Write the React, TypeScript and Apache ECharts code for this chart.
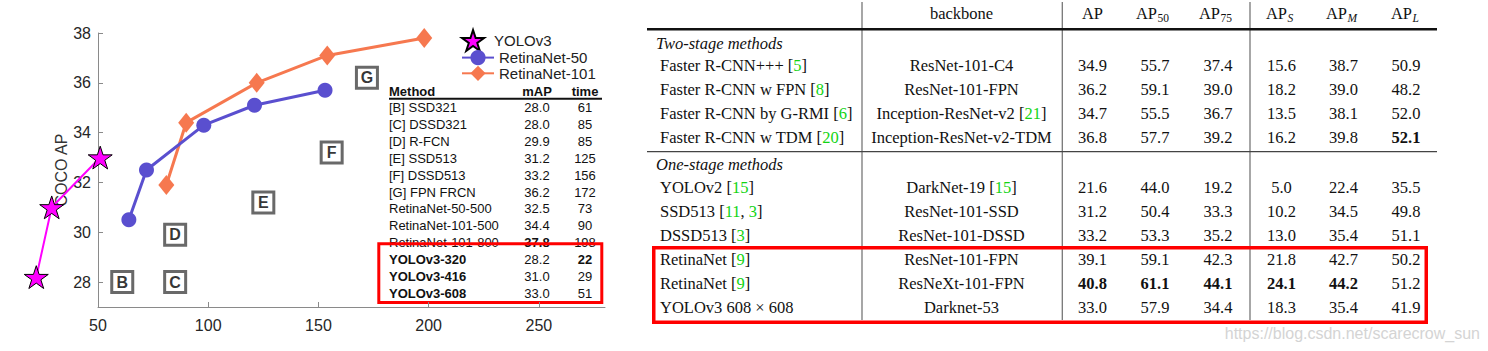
import React, { useEffect, useRef } from 'react';
import * as echarts from 'echarts';

// ---------------- Left chart: speed / accuracy ----------------
const yoloTime = [22, 29, 51];
const yoloAP = [28.2, 31.0, 33.0];
const retina50Time = [64, 72, 98, 121, 153];
const retina50AP = [30.5, 32.5, 34.3, 35.1, 35.7];
const retina101Time = [81, 90, 122, 154, 198];
const retina101AP = [31.9, 34.4, 36.0, 37.1, 37.8];

const xTicks = [50, 100, 150, 200, 250];
const yTicks = [28, 30, 32, 34, 36, 38];

// inner table (Method / mAP / time)
const methodNames = [
  '[B] SSD321', '[C] DSSD321', '[D] R-FCN', '[E] SSD513', '[F] DSSD513', '[G] FPN FRCN',
  'RetinaNet-50-500', 'RetinaNet-101-500', 'RetinaNet-101-800',
  'YOLOv3-320', 'YOLOv3-416', 'YOLOv3-608',
];
const methodMAP = ['28.0', '28.0', '29.9', '31.2', '33.2', '36.2', '32.5', '34.4', '37.8', '28.2', '31.0', '33.0'];
const methodTime = [61, 85, 85, 125, 156, 172, 73, 90, 198, 22, 29, 51];
const methodBold = [false, false, false, false, false, false, false, false, false, true, true, true];
const mapBold = [false, false, false, false, false, false, false, false, true, false, false, false];
const timeBold = [false, false, false, false, false, false, false, false, false, true, false, false];
const boxLetters = ['B', 'C', 'D', 'E', 'F', 'G'];

// ---------------- Right table ----------------
const tblMethods = [
  'Faster R-CNN+++', 'Faster R-CNN w FPN', 'Faster R-CNN by G-RMI', 'Faster R-CNN w TDM',
  'YOLOv2', 'SSD513', 'DSSD513', 'RetinaNet', 'RetinaNet', 'YOLOv3 608 × 608',
];
const tblMethodCites = [['5'], ['8'], ['6'], ['20'], ['15'], ['11', '3'], ['3'], ['9'], ['9'], []];
const tblBackbones = [
  'ResNet-101-C4', 'ResNet-101-FPN', 'Inception-ResNet-v2', 'Inception-ResNet-v2-TDM',
  'DarkNet-19', 'ResNet-101-SSD', 'ResNet-101-DSSD', 'ResNet-101-FPN', 'ResNeXt-101-FPN', 'Darknet-53',
];
const tblBackboneCites = [[], [], ['21'], [], ['15'], [], [], [], [], []];
const tblAP = [34.9, 36.2, 34.7, 36.8, 21.6, 31.2, 33.2, 39.1, 40.8, 33.0];
const tblAP50 = [55.7, 59.1, 55.5, 57.7, 44.0, 50.4, 53.3, 59.1, 61.1, 57.9];
const tblAP75 = [37.4, 39.0, 36.7, 39.2, 19.2, 33.3, 35.2, 42.3, 44.1, 34.4];
const tblAPS = [15.6, 18.2, 13.5, 16.2, 5.0, 10.2, 13.0, 21.8, 24.1, 18.3];
const tblAPM = [38.7, 39.0, 38.1, 39.8, 22.4, 34.5, 35.4, 42.7, 44.2, 35.4];
const tblAPL = [50.9, 48.2, 52.0, 52.1, 35.5, 49.8, 51.1, 50.2, 51.2, 41.9];
const tblBold = [[3, 5], [8, 0], [8, 1], [8, 2], [8, 3], [8, 4]];
const tblHeaderSubs = ['50', '75', 'S', 'M', 'L'];
const tblSections = ['Two-stage methods', 'One-stage methods'];

const STAR = 'path://M50 0 L61.23 34.55 L97.55 34.55 L68.17 55.9 L79.39 90.45 L50 69.1 L20.61 90.45 L31.83 55.9 L2.45 34.55 L38.77 34.55 Z';
const SANS = '"Liberation Sans", Arial, Helvetica, sans-serif';
const SERIF = '"Liberation Serif", "Times New Roman", serif';

function txt(text: string, x: number, y: number, opts: any = {}) {
  return {
    type: 'text',
    silent: true,
    style: {
      text,
      x,
      y,
      fill: opts.fill || '#111',
      fontSize: opts.fontSize || 13,
      fontFamily: opts.fontFamily || SANS,
      fontWeight: opts.fontWeight || 'normal',
      fontStyle: opts.fontStyle || 'normal',
      textAlign: opts.align || 'left',
      textVerticalAlign: 'middle',
      rich: opts.rich,
    },
  };
}

function hline(x1: number, x2: number, y: number, w: number, c: string) {
  return { type: 'line', silent: true, shape: { x1, y1: y, x2, y2: y }, style: { stroke: c, lineWidth: w } };
}
function vline(x: number, y1: number, y2: number, w: number, c: string) {
  return { type: 'line', silent: true, shape: { x1: x, y1, x2: x, y2 }, style: { stroke: c, lineWidth: w } };
}

function citeRich(base: string, cites: string[]) {
  if (!cites.length) return `{t|${base}}`;
  const parts = cites.map((c) => `{g|${c}}`).join('{t|, }');
  return `{t|${base} [}${parts}{t|]}`;
}

function buildGraphics() {
  const g: any[] = [];
  // ---- inner table of left chart ----
  const mX = 389, mapX = 537, tX = 585;
  g.push(txt('Method', mX, 91, { fontWeight: 'bold' }));
  g.push(txt('mAP', mapX, 91, { fontWeight: 'bold', align: 'center' }));
  g.push(txt('time', tX, 91, { fontWeight: 'bold', align: 'center' }));
  g.push(hline(389, 602, 98.7, 2, '#111'));
  methodNames.forEach((n, i) => {
    const y = 107.7 + 16.87 * i;
    g.push(txt(n, mX, y, { fontWeight: methodBold[i] ? 'bold' : 'normal' }));
    g.push(txt(methodMAP[i], mapX, y, { align: 'center', fontWeight: mapBold[i] ? 'bold' : 'normal' }));
    g.push(txt(String(methodTime[i]), tX, y, { align: 'center', fontWeight: timeBold[i] ? 'bold' : 'normal' }));
  });
  g.push({
    type: 'rect', silent: true,
    shape: { x: 378.8, y: 243.8, width: 223, height: 58.7 },
    style: { fill: 'none', stroke: '#ff0000', lineWidth: 3 },
  });

  // ---- right table ----
  const F = 16.5;
  const rich = {
    t: { fontSize: F, fontFamily: SERIF, fill: '#111' },
    g: { fontSize: F, fontFamily: SERIF, fill: '#12d412' },
  };
  const colCenters = [1092.5, 1155, 1218, 1281.5, 1343.5, 1406];
  const subSplit = [1157, 1220, 1287, 1347, 1412];
  const rowYs = [65, 89, 113, 137, 187, 211.5, 235.5, 259.5, 283.5, 307.5];
  const cols = [tblAP, tblAP50, tblAP75, tblAPS, tblAPM, tblAPL];

  g.push(vline(862, 2, 320, 1.3, '#777'));
  g.push(vline(1062.3, 2, 320, 1.3, '#777'));
  g.push(vline(1250, 2, 320, 1.3, '#777'));
  g.push(hline(647, 1437, 29.3, 2.6, '#111'));
  g.push(hline(647, 1437, 151.7, 1.3, '#444'));

  g.push(txt('backbone', 961.5, 13.3, { fontFamily: SERIF, fontSize: F, align: 'center' }));
  g.push(txt('AP', colCenters[0], 13.3, { fontFamily: SERIF, fontSize: F, align: 'center' }));
  tblHeaderSubs.forEach((s, k) => {
    g.push(txt('AP', subSplit[k], 13.3, { fontFamily: SERIF, fontSize: F, align: 'right' }));
    const isLetter = /[A-Z]/.test(s);
    g.push(txt(s, subSplit[k] + 0.5, 17.5, {
      fontFamily: SERIF, fontSize: 11.5, align: 'left', fontStyle: isLetter ? 'italic' : 'normal',
    }));
  });

  g.push(txt(tblSections[0], 656, 43, { fontFamily: SERIF, fontSize: F, fontStyle: 'italic' }));
  g.push(txt(tblSections[1], 656, 164, { fontFamily: SERIF, fontSize: F, fontStyle: 'italic' }));

  tblMethods.forEach((m, i) => {
    const y = rowYs[i];
    g.push(txt(citeRich(m, tblMethodCites[i]), 660, y, { fontFamily: SERIF, fontSize: F, rich }));
    g.push(txt(citeRich(tblBackbones[i], tblBackboneCites[i]), 961.5, y, { fontFamily: SERIF, fontSize: F, align: 'center', rich }));
    cols.forEach((col, c) => {
      const bold = tblBold.some(([r, cc]) => r === i && cc === c);
      g.push(txt(col[i].toFixed(1), colCenters[c], y, {
        fontFamily: SERIF, fontSize: F, align: 'center', fontWeight: bold ? 'bold' : 'normal',
      }));
    });
  });

  g.push({
    type: 'rect', silent: true,
    shape: { x: 653.75, y: 247.75, width: 772.5, height: 74.5 },
    style: { fill: 'none', stroke: '#ff0000', lineWidth: 3.5 },
  });

  g.push(txt('https://blog.csdn.net/scarecrow_sun', 1480, 333, { fontSize: 16, fill: '#d4d4d4', align: 'right' }));
  return g;
}

export default function App() {
  const ref = useRef<HTMLDivElement>(null);
  useEffect(() => {
    if (!ref.current) return;
    const chart = echarts.init(ref.current, undefined, { renderer: 'svg' });
    const axisColor = '#8a8a8a';
    const labelStyle = { color: '#262626', fontSize: 16, fontFamily: SANS };
    const legendText = { color: '#222', fontSize: 15, fontFamily: SANS };
    chart.setOption({
      animation: false,
      backgroundColor: '#ffffff',
      grid: { left: 98, top: 33, width: 507, height: 274, containLabel: false, outerBoundsMode: 'none' },
      xAxis: {
        type: 'value', min: 50, max: 280,
        axisLine: { show: true, lineStyle: { color: axisColor, width: 1 } },
        axisTick: { show: true, inside: true, length: 5, lineStyle: { color: axisColor }, customValues: xTicks },
        axisLabel: { ...labelStyle, margin: 10, customValues: xTicks },
        splitLine: { show: false },
      },
      yAxis: {
        type: 'value', min: 27, max: 38,
        name: 'COCO AP', nameLocation: 'middle', nameGap: 22,
        nameTextStyle: { color: '#333', fontSize: 16, fontFamily: SANS },
        axisLine: { show: true, lineStyle: { color: axisColor, width: 1 } },
        axisTick: { show: true, inside: true, length: 5, lineStyle: { color: axisColor }, customValues: yTicks },
        axisLabel: { ...labelStyle, margin: 7, customValues: yTicks },
        splitLine: { show: false },
      },
      legend: [
        {
          data: [{ name: 'YOLOv3', icon: STAR }],
          orient: 'vertical', left: 456, top: 24, itemWidth: 32, itemHeight: 21,
          textStyle: legendText, selectedMode: false,
        },
        {
          data: ['RetinaNet-50', 'RetinaNet-101'],
          orient: 'vertical', left: 456, top: 45, itemWidth: 32, itemHeight: 19, itemGap: 0.5,
          textStyle: legendText, selectedMode: false,
        },
      ],
      series: [
        {
          name: 'RetinaNet-101', type: 'line', clip: false,
          data: retina101Time.map((t, i) => [t, retina101AP[i]]),
          symbol: 'diamond', symbolSize: [16, 20], showAllSymbol: true,
          lineStyle: { color: '#f6784f', width: 3 },
          itemStyle: { color: '#f6784f' },
          z: 3,
        },
        {
          name: 'RetinaNet-50', type: 'line', clip: false,
          data: retina50Time.map((t, i) => [t, retina50AP[i]]),
          symbol: 'circle', symbolSize: 15, showAllSymbol: true,
          lineStyle: { color: '#5a4fcf', width: 3 },
          itemStyle: { color: '#5a4fcf' },
          z: 3,
        },
        {
          name: 'YOLOv3 path', type: 'lines', coordinateSystem: 'cartesian2d',
          polyline: true, clip: false, silent: true,
          data: [{ coords: yoloTime.map((t, i) => [t, yoloAP[i]]) }],
          lineStyle: { color: '#ff00ff', width: 2, opacity: 1, curveness: 0 },
          z: 3,
        },
        {
          name: 'YOLOv3', type: 'line', clip: false,
          data: yoloTime.map((t, i) => [t, yoloAP[i]]),
          symbol: STAR, symbolSize: 24, symbolKeepAspect: true, showAllSymbol: true,
          lineStyle: { color: '#ff00ff', width: 0, opacity: 0 },
          itemStyle: { color: '#ff00ff', borderColor: '#000', borderWidth: 1 },
          z: 4,
        },
        {
          name: 'methods', type: 'scatter', clip: false,
          data: boxLetters.map((l, i) => ({ name: l, value: [methodTime[i], parseFloat(methodMAP[i])] })),
          symbol: 'rect', symbolSize: 21,
          itemStyle: { color: '#ffffff', borderColor: '#444444', borderWidth: 3 },
          label: {
            show: true, position: 'inside', formatter: '{b}',
            color: '#000', fontWeight: 'bold', fontSize: 16, fontFamily: SANS,
          },
          z: 3,
        },
      ],
      graphic: { elements: buildGraphics() },
    });
    return () => chart.dispose();
  }, []);
  return (
    <div
      ref={ref}
      style={{ position: 'absolute', left: 0, top: 0, width: 1488, height: 351, background: '#fff' }}
    />
  );
}
